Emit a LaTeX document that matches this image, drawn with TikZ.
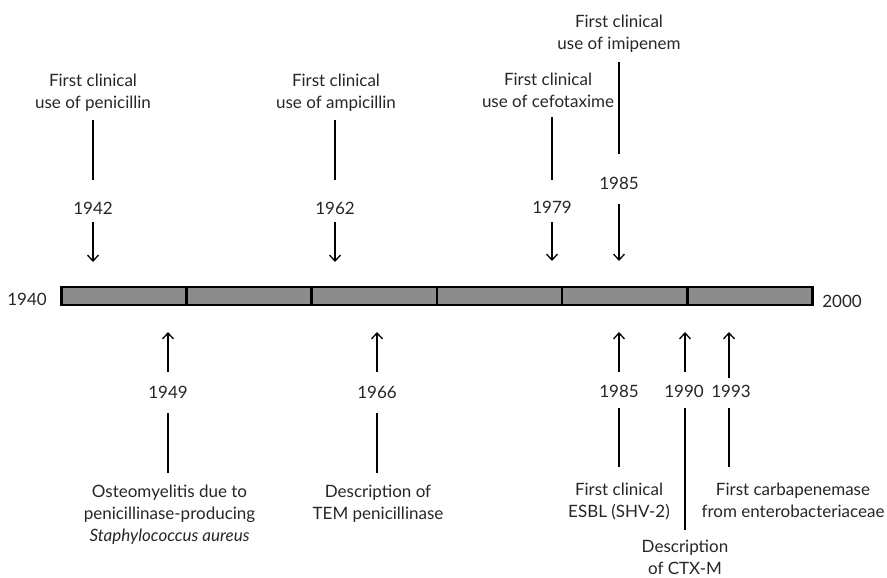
\documentclass[tikz,border=0pt]{standalone}
\usepackage{fontspec}
\setmainfont{Lato}
\usetikzlibrary{arrows.meta}
\definecolor{barfill}{HTML}{8C8C8C}
\begin{document}
\begin{tikzpicture}[x=1pt,y=-1pt,
  txt/.style={font=\fontsize{17}{22}\selectfont, text=black!85, inner sep=0pt},
  lbl/.style={txt, align=center, anchor=north},
  conn/.style={line width=1.3pt},
  arr/.style={line width=1.3pt, -{Straight Barb[length=6pt,width=11pt]}},
  seg/.style={draw=black, line width=2.6pt, fill=barfill, minimum width=125.2pt, minimum height=18pt, inner sep=0pt, anchor=west}]
\useasboundingbox (0,0) rectangle (887,578);

% timeline bar
\foreach \i in {0,...,5} {
  \node[seg] (s\i) at ({60+125.2*\i},296) {};
}
\node[txt] (y1940) at (27,299) {1940};
\node[txt] (y2000) at (842,301) {2000};

% ---------- events above the bar ----------
% 1942
\node[lbl] (l42) at (93,74) {First clinical\\use of penicillin};
\node[txt] (y42) at (93,208) {1942};
\coordinate (b42) at (93,262);
\draw[conn, shorten <=8.5pt, shorten >=22pt] (l42) -- (y42);
\draw[arr, shorten <=8pt] (y42) -- (b42);

% 1962
\node[lbl] (l62) at (336,74) {First clinical\\use of ampicillin};
\node[txt] (y62) at (335,208) {1962};
\coordinate (b62) at (335,262);
\draw[conn, shorten <=8.5pt, shorten >=22pt] (l62.south -| y62) -- (y62);
\draw[arr, shorten <=8pt] (y62) -- (b62);

% 1979
\node[lbl] (l79) at (548,73) {First clinical\\use of cefotaxime};
\node[txt] (y79) at (552,207.5) {1979};
\coordinate (b79) at (552,261);
\draw[conn, shorten <=9pt, shorten >=21.5pt] (l79.south -| y79) -- (y79);
\draw[arr, shorten <=8pt] (y79) -- (b79);

% 1985 (imipenem)
\node[lbl] (l85t) at (619,15) {First clinical\\use of imipenem};
\node[txt] (y85t) at (619,183) {1985};
\coordinate (b85t) at (619,261);
\draw[conn, shorten <=9.5pt, shorten >=23pt] (l85t) -- (y85t);
\draw[arr, shorten <=15pt] (y85t) -- (b85t);

% ---------- events below the bar ----------
% 1949
\node[txt] (y49) at (168,392) {1949};
\coordinate (b49) at (168,332);
\node[lbl] (l49) at (169.5,485) {Osteomyelitis due to\\penicillinase-producing\\\textit{Staphylococcus aureus}};
\draw[arr, shorten <=14pt] (y49) -- (b49);
\draw[conn, shorten <=15pt, shorten >=12pt] (y49) -- (y49 |- l49.north);

% 1966
\node[txt] (y66) at (377,392) {1966};
\coordinate (b66) at (377,332);
\node[lbl] (l66) at (378,485) {Description of\\TEM penicillinase};
\draw[arr, shorten <=14pt] (y66) -- (b66);
\draw[conn, shorten <=15pt, shorten >=12pt] (y66) -- (y66 |- l66.north);

% 1985 (ESBL)
\node[txt] (y85b) at (619,391.5) {1985};
\coordinate (b85b) at (619,332);
\node[lbl] (l85b) at (619,483) {First clinical\\ESBL (SHV-2)};
\draw[arr, shorten <=13.5pt] (y85b) -- (b85b);
\draw[conn, shorten <=10.5pt, shorten >=16pt] (y85b) -- (l85b);

% 1990
\node[txt] (y90) at (684,391.5) {1990};
\coordinate (b90) at (685,332);
\node[lbl] (l90) at (685,540) {Description\\of CTX-M};
\draw[arr, shorten <=13.5pt] (y90.north -| b90) -- (b90);
\draw[conn, shorten <=10.5pt, shorten >=10pt] (y90.south -| b90) -- (l90);

% 1993
\node[txt] (y93) at (731,391.5) {1993};
\coordinate (b93) at (729,332);
\node[lbl] (l93) at (793,483) {First carbapenemase\\from enterobacteriaceae};
\draw[arr, shorten <=7.5pt] (y93.north -| b93) -- (b93);
\draw[conn, shorten <=10.5pt, shorten >=16pt] (y93.south -| b93) -- (b93 |- l93.north);
\end{tikzpicture}
\end{document}
